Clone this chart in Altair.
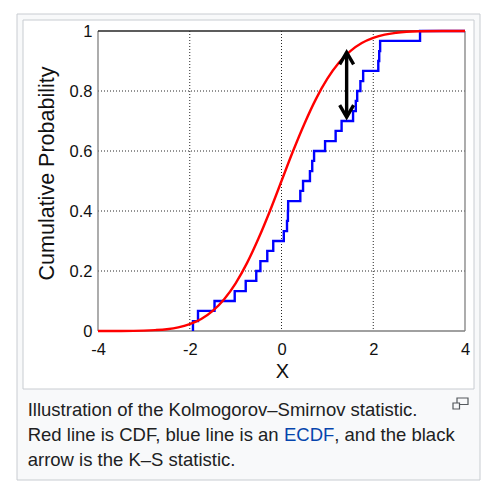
import altair as alt
import pandas as pd

# ---- data ----
cdf_x = [-4, -3.5, -3, -2.75, -2.5, -2.25, -2, -1.75, -1.5, -1.25, -1, -0.75, -0.5, -0.25,
         0, 0.25, 0.5, 0.75, 1, 1.25, 1.5, 1.75, 2, 2.25, 2.5, 3, 3.5, 4]
cdf_y = [0.0, 0.0002, 0.0013, 0.003, 0.006, 0.012, 0.023, 0.040, 0.067, 0.106, 0.159, 0.227,
         0.309, 0.401, 0.5, 0.599, 0.691, 0.773, 0.841, 0.894, 0.933, 0.960, 0.977, 0.988,
         0.994, 0.999, 1.0, 1.0]

ecdf_x = [-1.93, -1.93, -1.82, -1.46, -1.02, -0.78, -0.55, -0.46, -0.31, -0.18, 0.05, 0.12,
          0.14, 0.145, 0.41, 0.47, 0.62, 0.67, 0.71, 0.95, 1.18, 1.31, 1.56, 1.62, 1.65,
          1.72, 1.78, 2.11, 2.13, 2.15, 3.02, 4.0]
ecdf_y = [0.0, 0.033, 0.067, 0.1, 0.133, 0.167, 0.2, 0.233, 0.267, 0.3, 0.333, 0.367,
          0.4, 0.433, 0.467, 0.5, 0.533, 0.567, 0.6, 0.633, 0.667, 0.7, 0.733, 0.767, 0.8,
          0.833, 0.867, 0.9, 0.933, 0.967, 1.0, 1.0]

arrow_x = [1.42]
arrow_low = [0.713]
arrow_high = [0.929]

grid_x = [-2, 0, 2]
grid_y = [0.2, 0.4, 0.6, 0.8]
x_ticks = [-4, -2, 0, 2, 4]
y_ticks = [0, 0.2, 0.4, 0.6, 0.8, 1]

x_title = "X"
y_title = "Cumulative Probability"
caption_1 = "Illustration of the Kolmogorov\u2013Smirnov statistic."
caption_2a = "Red line is CDF, blue line is an"
caption_2b = "ECDF"
caption_2c = ", and the black"
caption_3 = "arrow is the K\u2013S statistic."

FONT = "Liberation Sans"
W, H = 367, 300

xs = alt.Scale(domain=[-4, 4], nice=False, zero=False)
ys = alt.Scale(domain=[0, 1], nice=False, zero=False)

one = pd.DataFrame({"k": [0]})

# ---- decoration: wiki thumb frame ----
outer = alt.Chart(one).mark_rect(fill="#f8f9fa", stroke="#c8ccd1", strokeWidth=1).encode(
    x=alt.value(-81), x2=alt.value(382), y=alt.value(-17), y2=alt.value(449))
inner = alt.Chart(one).mark_rect(fill="#ffffff", stroke="#c8ccd1", strokeWidth=1).encode(
    x=alt.value(-75), x2=alt.value(376), y=alt.value(-11), y2=alt.value(358))
icon_big = alt.Chart(one).mark_rect(fill="#f8f9fa", stroke="#54595d", strokeWidth=1.2).encode(
    x=alt.value(359), x2=alt.value(370), y=alt.value(367), y2=alt.value(373.5))
icon_small = alt.Chart(one).mark_rect(fill="#f8f9fa", stroke="#54595d", strokeWidth=1.2).encode(
    x=alt.value(355), x2=alt.value(361.5), y=alt.value(372), y2=alt.value(378))

def cap(text, x, y, color="#202122"):
    return alt.Chart(pd.DataFrame({"t": [text]})).mark_text(
        align="left", baseline="alphabetic", font=FONT, fontSize=18.5, color=color
    ).encode(text="t:N", x=alt.value(x), y=alt.value(y))

captions = [
    cap(caption_1, -70.3, 385),
    cap(caption_2a, -70.3, 410),
    cap(caption_2b, 186.0, 410, "#0645ad"),
    cap(caption_2c, 236.3, 410),
    cap(caption_3, -70.3, 435),
]

base = alt.Chart(pd.DataFrame({"x": cdf_x, "y": cdf_y}))

xaxis = alt.Axis(values=x_ticks, labelExpr="'' + datum.value", grid=False, domain=False,
                 ticks=False, tickSize=0, labelPadding=10, labelFontSize=16.5, labelFont=FONT,
                 labelColor="#111111", labelFlush=False, labelOverlap=False,
                 title=x_title, titleFont=FONT, titleFontSize=20,
                 titleFontWeight="normal", titleColor="#111111", titleX=184, titleY=46,
                 titleBaseline="alphabetic", titleAlign="center", titleAngle=0, zindex=1)
yaxis = alt.Axis(values=y_ticks, labelExpr="'' + datum.value", grid=False, domain=False,
                 ticks=False, tickSize=0, labelPadding=6, labelFontSize=16.5, labelFont=FONT,
                 labelColor="#111111", labelFlush=False, labelOverlap=False,
                 title=y_title, titleFont=FONT, titleFontSize=21.5,
                 titleFontWeight="normal", titleColor="#111111", titleX=-45, titleY=142,
                 titleBaseline="alphabetic", titleAlign="center", titleAngle=270, zindex=1)

# ---- grid ----
vgrid = alt.Chart(pd.DataFrame({"g": grid_x})).mark_rule(
    color="#262626", strokeWidth=1, strokeDash=[1, 2], opacity=1
).encode(x=alt.X("g:Q", scale=xs))
hgrid = alt.Chart(pd.DataFrame({"g": grid_y})).mark_rule(
    color="#262626", strokeWidth=1, strokeDash=[1, 2], opacity=1
).encode(y=alt.Y("g:Q", scale=ys))

# ---- plot box ----
box_grey_x = alt.Chart(pd.DataFrame({"b": [-4, 4]})).mark_rule(color="#808080", strokeWidth=1.3).encode(
    x=alt.X("b:Q", scale=xs))
box_bottom = alt.Chart(pd.DataFrame({"b": [0]})).mark_rule(color="#808080", strokeWidth=1.3).encode(
    y=alt.Y("b:Q", scale=ys))
box_top = alt.Chart(pd.DataFrame({"b": [1]})).mark_rule(color="#262626", strokeWidth=1.3).encode(
    y=alt.Y("b:Q", scale=ys))

# ---- data lines ----
ecdf = alt.Chart(pd.DataFrame({"x": ecdf_x, "y": ecdf_y, "o": list(range(len(ecdf_x)))})).mark_line(
    color="#0000ff", strokeWidth=2.4, interpolate="step-after"
).encode(x=alt.X("x:Q", scale=xs, axis=xaxis), y=alt.Y("y:Q", scale=ys, axis=yaxis), order="o:Q")

cdf = base.mark_line(color="#ff0000", strokeWidth=2.4, interpolate="monotone").encode(
    x=alt.X("x:Q", scale=xs), y=alt.Y("y:Q", scale=ys))

adf = pd.DataFrame({"x": arrow_x, "lo": arrow_low, "hi": arrow_high})
shaft = alt.Chart(adf).mark_rule(color="#000000", strokeWidth=3.4).encode(
    x=alt.X("x:Q", scale=xs), y=alt.Y("lo:Q", scale=ys), y2="hi:Q")
head_top = alt.Chart(adf).mark_point(
    shape="M-0.58,1L0,0L0.58,1", filled=False, size=576, color="#000000", strokeWidth=3.4, opacity=1
).encode(x=alt.X("x:Q", scale=xs), y=alt.Y("hi:Q", scale=ys))
head_bot = alt.Chart(adf).mark_point(
    shape="M-0.58,-1L0,0L0.58,-1", filled=False, size=576, color="#000000", strokeWidth=3.4, opacity=1
).encode(x=alt.X("x:Q", scale=xs), y=alt.Y("lo:Q", scale=ys))

chart = alt.layer(
    outer, inner, icon_big, icon_small, *captions,
    vgrid, hgrid, box_grey_x, box_bottom, box_top,
    ecdf, cdf, shaft, head_top, head_bot
).properties(
    width=W, height=H,
    autosize=alt.AutoSizeParams(type="none"),
    padding={"left": 90, "top": 23, "right": 20, "bottom": 155},
).configure_view(stroke=None)

chart.save("out.html", embed_options={"renderer": "svg", "actions": False})
